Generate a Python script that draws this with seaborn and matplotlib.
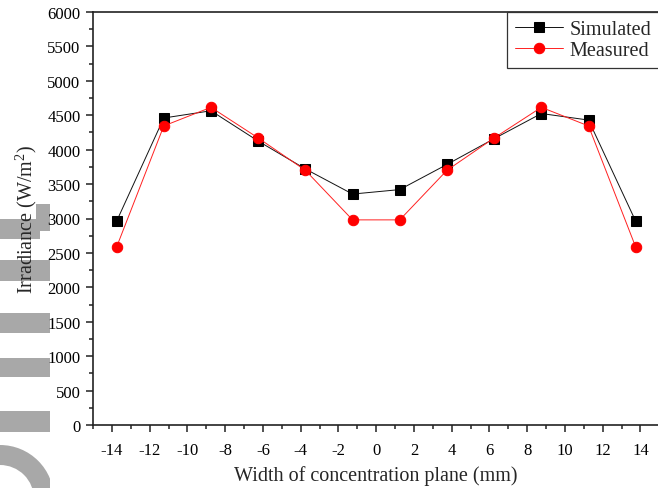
import matplotlib
matplotlib.use("Agg")
import matplotlib.pyplot as plt
import seaborn as sns
import pandas as pd
from matplotlib.ticker import MultipleLocator
from matplotlib.patches import Rectangle, Wedge

# data
width_mm = [-13.75, -11.25, -8.75, -6.25, -3.75, -1.25, 1.25, 3.75, 6.25, 8.75, 11.25, 13.75]
simulated = [2960, 4460, 4565, 4125, 3720, 3355, 3420, 3785, 4160, 4525, 4430, 2960]
measured = [2585, 4345, 4615, 4170, 3700, 2980, 2980, 3700, 4170, 4615, 4345, 2585]

x_ticks = list(range(-14, 15, 2))
y_ticks = list(range(0, 6001, 500))

df = pd.DataFrame({"x": width_mm, "Simulated": simulated, "Measured": measured})

sns.set_theme(style="ticks")
plt.rcParams['font.family'] = ['Liberation Serif', 'DejaVu Serif']
plt.rcParams['mathtext.fontset'] = 'custom'
plt.rcParams['mathtext.rm'] = 'Liberation Serif'
plt.rcParams['axes.unicode_minus'] = False

fig = plt.figure(figsize=(6.58, 4.89), dpi=100)
ax = fig.add_axes([93 / 658, 1 - 426 / 489, 1.002 - 93 / 658, (426 - 13) / 489])

sns.lineplot(data=df, x="x", y="Simulated", ax=ax, color="#111111", lw=0.7,
             marker="s", markersize=6.5, markeredgecolor="black", markerfacecolor="black",
             label="Simulated")
sns.lineplot(data=df, x="x", y="Measured", ax=ax, color="#ff2020", lw=0.7,
             marker="o", markersize=7.5, markeredgecolor="red", markerfacecolor="red",
             label="Measured")

ax.set_xlim(-15, 15)
ax.set_ylim(0, 6000)
ax.set_xticks(x_ticks)
ax.set_yticks(y_ticks)
ax.xaxis.set_minor_locator(MultipleLocator(1))
ax.yaxis.set_minor_locator(MultipleLocator(250))
ax.tick_params(which="major", direction="out", length=5, width=1.1, labelsize=12,
               colors="#222222", labelcolor="black")
ax.tick_params(axis="x", which="major", pad=7)
ax.tick_params(axis="y", which="major", pad=4)
ax.tick_params(which="minor", direction="out", length=3, width=1.1, colors="#222222")
for s in ax.spines.values():
    s.set_linewidth(1.2)
    s.set_color("#222222")

ax.set_xlabel("Width of concentration plane (mm)", fontsize=14.5)
ax.set_ylabel("Irradiance (W/m$^{2}$)", fontsize=14.5)
ax.xaxis.set_label_coords(0.5, -0.097)
ax.yaxis.set_label_coords(-0.095, 0.5)

leg = ax.legend(loc="upper right", bbox_to_anchor=(1.0, 1.0), borderaxespad=0,
                fontsize=14.5, frameon=True, fancybox=False, framealpha=1,
                edgecolor="#333333", handlelength=2.4, handletextpad=0.3,
                borderpad=0.4, labelspacing=0.1)
leg.get_frame().set_linewidth(0.9)

# grey strips along the left edge of the reference image
grey = "#a8a8a8"
strips = [(0, 220, 40, 20), (36, 205, 14, 27), (0, 261, 50, 21), (0, 314, 50, 20),
          (0, 359, 50, 19), (0, 412, 50, 21)]
for x0, y0, w, h in strips:
    fig.add_artist(Rectangle((x0 / 658, 1 - (y0 + h) / 489), w / 658, h / 489,
                             transform=fig.transFigure, color=grey, zorder=-1, lw=0))
arc = Wedge((0, -0.11), 0.54, 0, 90, width=0.2, transform=fig.dpi_scale_trans,
            color=grey, zorder=-1, lw=0)
fig.add_artist(arc)
arc.set_clip_path(Rectangle((0, 0), 0.5, 1, transform=fig.dpi_scale_trans))

fig.savefig("out.png", dpi=100)
